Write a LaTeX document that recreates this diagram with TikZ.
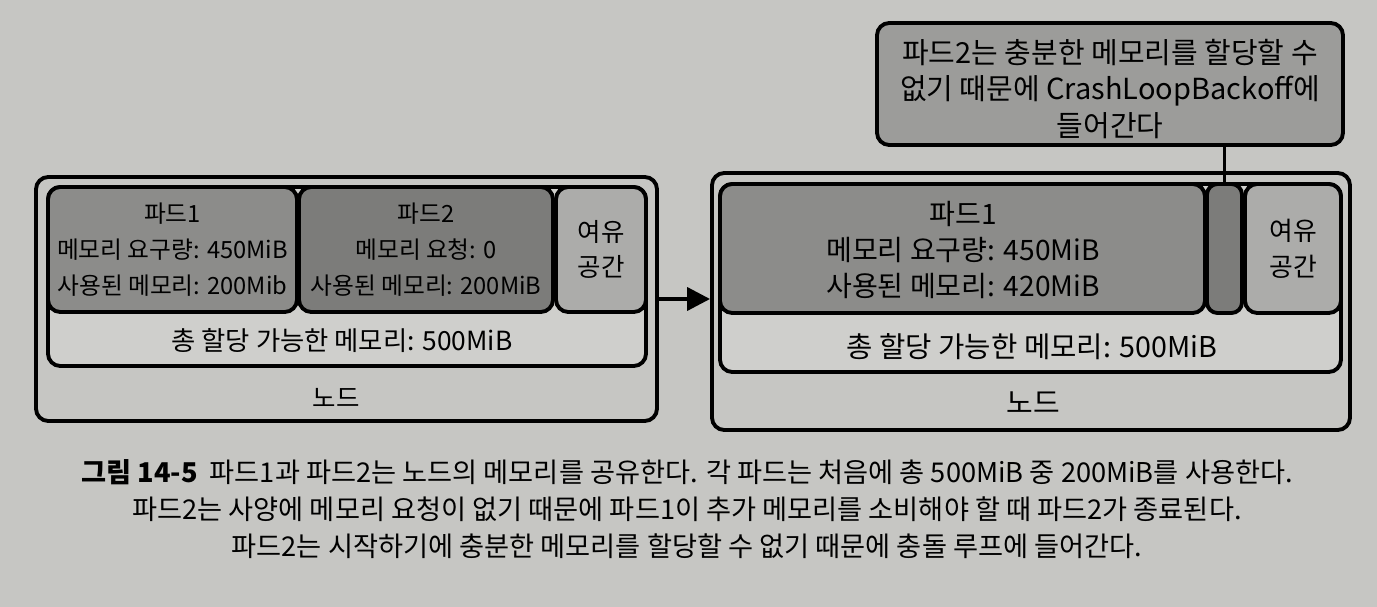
\documentclass[tikz,border=0pt]{standalone}
\usepackage{fontspec}
\setmainfont{Noto Sans CJK KR}
\usetikzlibrary{fit,calc,arrows.meta}

\definecolor{pagegray}{RGB}{198,198,195}
\definecolor{allocgray}{RGB}{207,207,204}
\definecolor{podgray}{RGB}{140,140,138}
\definecolor{podgraydark}{RGB}{124,124,122}
\definecolor{freegray}{RGB}{172,172,170}
\definecolor{notegray}{RGB}{156,156,154}

\tikzset{
  box/.style={draw, line width=2.2pt, rounded corners=7pt, inner sep=0pt},
  boxtext/.style={align=center, font=\fontsize{13.5}{20.4}\selectfont},
  bigtext/.style={align=center, font=\fontsize{16}{20.4}\selectfont},
}

\begin{document}
\begin{tikzpicture}[x=0.02cm,y=-0.02cm]
  \fill[pagegray] (0,0) rectangle (1377,607);
  \useasboundingbox (0,0) rectangle (1377,607);

  % left node
  \coordinate (lnA) at (36,177);  \coordinate (lnB) at (657,421);
  \coordinate (laA) at (48,187);  \coordinate (laB) at (646,366);
  \coordinate (lp1A) at (48,187); \coordinate (lp1B) at (297,312);
  \coordinate (lp2A) at (299,187); \coordinate (lp2B) at (553,312);
  \coordinate (lfA) at (556,187); \coordinate (lfB) at (646,312);
  \node[box, fit=(lnA)(lnB)] (lnode) {};
  \node[box, fill=allocgray, fit=(laA)(laB)] (lalloc) {};
  \node[box, fill=podgray, fit=(lp1A)(lp1B)] (lpod1) {};
  \node[box, fill=podgraydark, fit=(lp2A)(lp2B)] (lpod2) {};
  \node[box, fill=freegray, fit=(lfA)(lfB)] (lfree) {};
  \node[boxtext] (lpod1txt) at (lpod1.center) {파드1\\메모리 요구량: 450MiB\\사용된 메모리: 200Mib};
  \node[boxtext] (lpod2txt) at (lpod2.center) {파드2\\메모리 요청: 0\\사용된 메모리: 200MiB};
  \node[boxtext, font=\fontsize{14.5}{20.4}\selectfont] (lfreetxt) at (lfree.center) {여유\\공간};
  \node[boxtext, font=\fontsize{15}{20.4}\selectfont] (lalloctxt) at (342,341) {총 할당 가능한 메모리: 500MiB};
  \node[boxtext, font=\fontsize{14.5}{20.4}\selectfont] (lnodetxt) at (336,398) {노드};

  % right node
  \coordinate (rnA) at (712,173);  \coordinate (rnB) at (1350,430);
  \coordinate (raA) at (720,184);  \coordinate (raB) at (1341,372);
  \coordinate (rp1A) at (720,184); \coordinate (rp1B) at (1205,313);
  \coordinate (rp2A) at (1207,184); \coordinate (rp2B) at (1242,313);
  \coordinate (rfA) at (1245,184); \coordinate (rfB) at (1341,313);
  \node[box, fit=(rnA)(rnB)] (rnode) {};
  \node[box, fill=allocgray, fit=(raA)(raB)] (ralloc) {};
  \node[box, fill=podgray, fit=(rp1A)(rp1B)] (rpod1) {};
  \node[box, fill=podgraydark, rounded corners=6pt, fit=(rp2A)(rp2B)] (rpod2) {};
  \node[box, fill=freegray, fit=(rfA)(rfB)] (rfree) {};
  \node[bigtext] (rpod1txt) at (963,250) {파드1\\메모리 요구량: 450MiB\\사용된 메모리: 420MiB};
  \node[boxtext, font=\fontsize{14.7}{20.4}\selectfont] (rfreetxt) at (rfree.center) {여유\\공간};
  \node[bigtext, font=\fontsize{16.3}{20.4}\selectfont] (ralloctxt) at (1032,347) {총 할당 가능한 메모리: 500MiB};
  \node[bigtext, font=\fontsize{16.5}{20.4}\selectfont] (rnodetxt) at (1033,403) {노드};

  % callout
  \coordinate (cA) at (877,23); \coordinate (cB) at (1343,145);
  \node[box, fill=notegray, fit=(cA)(cB)] (note) {};
  \node[bigtext, font=\fontsize{16.5}{21}\selectfont] (notetxt) at (1110,89) {파드2는 충분한 메모리를 할당할 수\\없기 때문에 CrashLoopBackoff에\\들어간다};

  % connectors
  \draw[line width=2.2pt, -{Triangle[length=13pt, width=13pt]}] (lnode.east) -- (lnode.east -| rnode.west);
  \draw[line width=2.2pt] (note.south -| rpod2.north) -- (rpod2.north);

  % caption
  \node[align=center, font=\fontsize{15.5}{21}\selectfont] (caption) at (687,509)
    {\textbf{그림 14-5}\ \ 파드1과 파드2는 노드의 메모리를 공유한다. 각 파드는 처음에 총 500MiB 중 200MiB를 사용한다.\\
     파드2는 사양에 메모리 요청이 없기 때문에 파드1이 추가 메모리를 소비해야 할 때 파드2가 종료된다.\\
     파드2는 시작하기에 충분한 메모리를 할당할 수 없기 때문에 충돌 루프에 들어간다.};
\end{tikzpicture}
\end{document}
